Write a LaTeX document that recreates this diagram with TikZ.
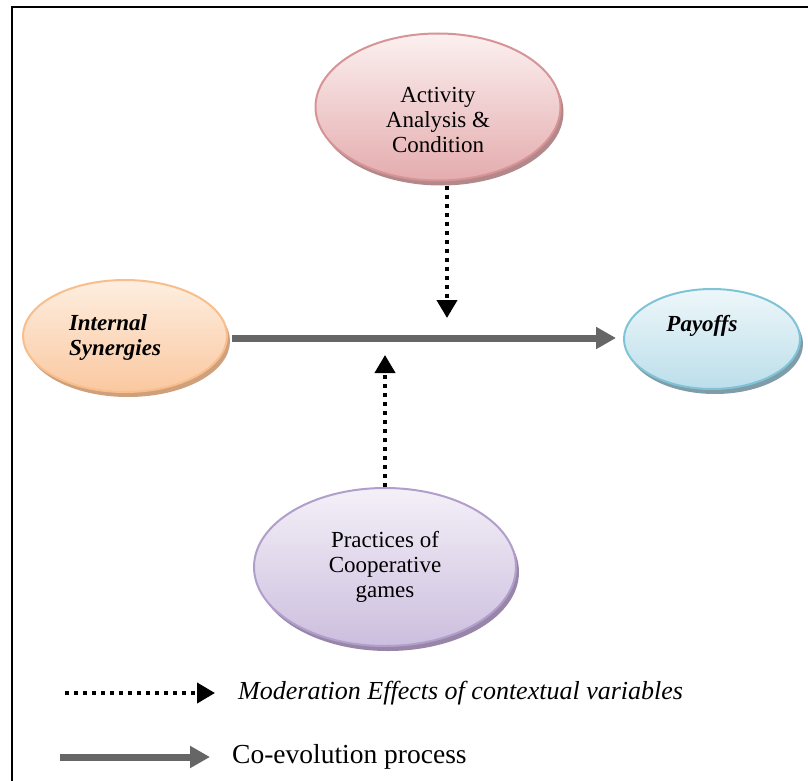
\documentclass[tikz,border=0pt]{standalone}
\usepackage{fontspec}
\setmainfont{Liberation Serif}
\usetikzlibrary{shapes.geometric, arrows.meta, shadows}
\definecolor{roseLine}{RGB}{214,148,150}
\definecolor{roseTop}{RGB}{252,240,240}
\definecolor{roseBot}{RGB}{228,172,174}
\definecolor{roseShade}{RGB}{178,136,138}
\definecolor{peachLine}{RGB}{248,190,140}
\definecolor{peachTop}{RGB}{254,238,224}
\definecolor{peachBot}{RGB}{250,200,160}
\definecolor{peachShade}{RGB}{206,160,124}
\definecolor{skyLine}{RGB}{126,196,214}
\definecolor{skyTop}{RGB}{238,247,250}
\definecolor{skyBot}{RGB}{188,222,234}
\definecolor{skyShade}{RGB}{128,156,168}
\definecolor{lilacLine}{RGB}{178,158,202}
\definecolor{lilacTop}{RGB}{244,240,248}
\definecolor{lilacBot}{RGB}{204,190,222}
\definecolor{lilacShade}{RGB}{152,134,168}
\definecolor{ArrowGray}{RGB}{102,102,102}

\begin{document}
\begin{tikzpicture}[x=1pt, y=-1pt, font=\fontsize{23}{25}\selectfont]
    \tikzset{
        factor/.style={ellipse, line width=2pt, inner sep=0pt, align=center},
        tint/.style={draw=#1Line, top color=#1Top, bottom color=#1Bot,
            general shadow={fill=#1Shade, shadow xshift=3pt, shadow yshift=-5pt}},
        coevol/.style={draw=ArrowGray, line width=7pt,
            -{Triangle[length=20pt, width=21pt]}},
        moderation/.style={draw=black, line width=4pt, dash pattern=on 4pt off 5pt,
            -{Triangle[length=18pt, width=20pt]}},
        legendtext/.style={anchor=west, inner sep=0pt, font=\fontsize{26}{30}\selectfont}
    }
    \clip (0,0) rectangle (808,781);
    \draw[line width=2.2pt] (12,800) -- (12,7) -- (820,7);
    \node[factor, tint=rose, minimum width=245, minimum height=147,
        label={[name=activitytext, align=center, yshift=-13pt]center:Activity\\Analysis \&\\Condition}]
        (activity) at (438,107) {};
    \node[factor, tint=peach, minimum width=204, minimum height=112,
        label={[name=synergiestext, align=left, xshift=-10pt, yshift=-1pt]center:%
            \textbf{\textit{Internal}}\\\textbf{\textit{Synergies}}}]
        (synergies) at (125,336) {};
    \node[factor, tint=sky, minimum width=176, minimum height=100,
        label={[name=payoffstext, xshift=-10pt, yshift=13pt]center:\textbf{\textit{Payoffs}}}]
        (payoffs) at (712,339) {};
    \node[factor, tint=lilac, minimum width=262, minimum height=158] (practices) at (385,567)
        {Practices of\\Cooperative\\games};
    \coordinate (downtip) at (447,318);
    \coordinate (uptip) at (385,355);
    \draw[coevol] ([xshift=4pt]synergies.east |- 0,338) -- ([xshift=-7pt]payoffs.west |- 0,338);
    \draw[moderation] (activity.south -| downtip) ++(0,4) -- (downtip);
    \draw[moderation] (practices.north) -- (uptip);
    \coordinate (modstart) at (65,693);
    \coordinate (modend) at (215,693);
    \coordinate (coevstart) at (60,757);
    \coordinate (coevend) at (210,757);
    \draw[moderation] (modstart) -- (modend);
    \draw[coevol] (coevstart) -- (coevend);
    \node[legendtext] (modlabel) at (238,693) {\itshape Moderation Effects of contextual variables};
    \node[legendtext, font=\fontsize{27.5}{30}\selectfont] (coevlabel) at (232,757) {Co-evolution process};
\end{tikzpicture}
\end{document}
